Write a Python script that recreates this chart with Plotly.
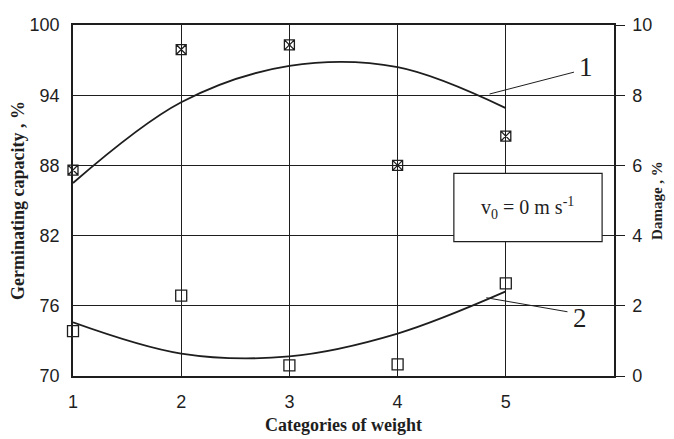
import plotly.graph_objects as go

# Data
categories = [1, 2, 3, 4, 5]
germ_points = [87.6, 97.9, 98.3, 88.0, 90.5]
germ_curve = [86.5, 93.4, 96.5, 96.4, 92.9]
damage_points = [1.28, 2.29, 0.30, 0.33, 2.64]
damage_curve = [1.53, 0.64, 0.56, 1.21, 2.41]

left_ticks = [70, 76, 82, 88, 94, 100]
right_ticks = [0, 2, 4, 6, 8, 10]

ink = '#1e1e1e'
serif = 'Liberation Serif, Times New Roman, serif'
sans = 'Liberation Sans, Arial, sans-serif'

fig = go.Figure()

# curve 1 - germinating capacity
fig.add_trace(go.Scatter(x=categories, y=germ_curve, mode='lines',
                         line=dict(color=ink, width=1.8, shape='spline', smoothing=1.0),
                         showlegend=False))
fig.add_trace(go.Scatter(x=categories, y=germ_points, mode='markers', cliponaxis=False,
                         marker=dict(symbol='square-x-open', size=10, color=ink,
                                     line=dict(width=1.3, color=ink)),
                         showlegend=False))

# curve 2 - damage
fig.add_trace(go.Scatter(x=categories, y=damage_curve, mode='lines', yaxis='y2',
                         line=dict(color=ink, width=1.8, shape='spline', smoothing=1.0),
                         showlegend=False))
fig.add_trace(go.Scatter(x=categories, y=damage_points, mode='markers', yaxis='y2',
                         cliponaxis=False,
                         marker=dict(symbol='square-open', size=11, color=ink,
                                     line=dict(width=1.3, color=ink)),
                         showlegend=False))

# leader lines for the curve labels
fig.add_shape(type='line', xref='x', yref='y', x0=4.85, y0=94.1, x1=5.63, y1=95.97,
              line=dict(color=ink, width=1))
fig.add_shape(type='line', xref='x', yref='y', x0=4.82, y0=76.69, x1=5.57, y1=75.49,
              line=dict(color=ink, width=1))

# velocity box
fig.add_shape(type='rect', xref='x', yref='y', x0=4.52, x1=5.89, y0=81.49, y1=87.31,
              fillcolor='white', line=dict(color=ink, width=1.2), layer='above')

fig.add_annotation(x=5.74, y=96.4, xref='x', yref='y', text='1', showarrow=False,
                   font=dict(family=serif, size=27, color=ink))
fig.add_annotation(x=5.69, y=75.0, xref='x', yref='y', text='2', showarrow=False,
                   font=dict(family=serif, size=27, color=ink))
fig.add_annotation(x=5.205, y=84.4, xref='x', yref='y',
                   text='v<sub>0</sub> = 0 m s<sup>-1</sup>', showarrow=False,
                   font=dict(family=serif, size=20, color=ink))

# page body adds an 8px margin, so the figure is drawn 8px smaller
fig.update_layout(
    width=666, height=431,
    margin=dict(l=65, r=60, t=17, b=63),
    paper_bgcolor='white', plot_bgcolor='white',
    xaxis=dict(range=[1, 6], tickvals=categories, ticktext=[str(c) for c in categories],
               showgrid=True, gridcolor=ink, gridwidth=1, automargin=False,
               showline=True, linecolor=ink, linewidth=1.5, mirror=True,
               ticks='', zeroline=False, ticklabelstandoff=9,
               tickfont=dict(family=sans, size=18, color=ink),
               title=dict(text='<b>Categories of weight</b>', standoff=7,
                          font=dict(family=serif, size=18, color=ink))),
    yaxis=dict(range=[70, 100], tickvals=left_ticks, automargin=False,
               showgrid=True, gridcolor=ink, gridwidth=1,
               showline=True, linecolor=ink, linewidth=1.5,
               ticks='', zeroline=False, ticklabelstandoff=8,
               tickfont=dict(family=sans, size=18, color=ink),
               title=dict(text='<b>Germinating capacity , %</b>', standoff=3,
                          font=dict(family=serif, size=18, color=ink))),
    yaxis2=dict(range=[0, 10], tickvals=right_ticks, overlaying='y', side='right',
                showgrid=False, showline=True, linecolor=ink, linewidth=1.5,
                ticks='outside', ticklen=9, tickcolor=ink, tickwidth=1,
                zeroline=False, ticklabelstandoff=4, automargin=False,
                tickfont=dict(family=sans, size=18, color=ink),
                title=dict(text='<b>Damage , %</b>', standoff=0,
                           font=dict(family=serif, size=15, color=ink))),
)

fig.write_html("out.html")
